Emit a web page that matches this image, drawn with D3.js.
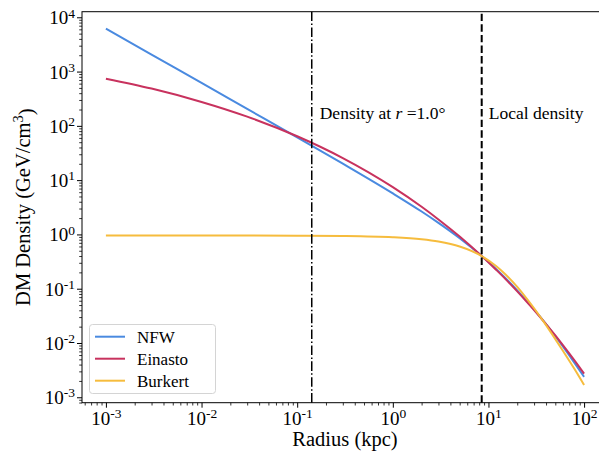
<!DOCTYPE html>
<html>
<head>
<meta charset="utf-8">
<script src="https://cdn.jsdelivr.net/npm/d3@7"></script>
<style>
  body { margin: 0; background: #fff; }
  svg text { font-family: "Liberation Serif", "Times New Roman", serif; fill: #000; }
</style>
</head>
<body>
<svg id="chart" width="599" height="451"></svg>
<script>
// Radius in kpc, density in GeV/cm^3
const radius  = [0.001, 0.003, 0.01, 0.03, 0.1, 0.3, 1, 2, 3, 5, 8.5, 12, 15, 20, 25, 30, 40, 50, 60, 80, 100];
const nfw     = [6190, 2058, 617, 205, 61.3, 20.1, 5.70, 2.64, 1.63, 0.851, 0.400, 0.232, 0.158, 0.0934, 0.0603, 0.0415, 0.0222, 0.0133, 0.00862, 0.00422, 0.00238];
const einasto = [740, 486, 276, 148, 64.3, 25.5, 7.43, 3.23, 1.89, 0.915, 0.400, 0.224, 0.152, 0.0893, 0.0581, 0.0405, 0.0223, 0.0138, 0.00917, 0.0047, 0.00273];
const burkert = [0.955, 0.955, 0.954, 0.953, 0.948, 0.935, 0.885, 0.812, 0.738, 0.600, 0.400, 0.262, 0.185, 0.108, 0.0666, 0.0436, 0.0213, 0.0118, 0.00721, 0.00324, 0.00168];

const seriesNames = ["NFW", "Einasto", "Burkert"];
const seriesColors = ["#4a8ae0", "#c8325e", "#f6bc3d"];

const xExponents = [-3, -2, -1, 0, 1, 2];
const yExponents = [-3, -2, -1, 0, 1, 2, 3, 4];

// marker lines: 1 degree from GC, and solar position
const rOneDeg = 0.142;
const rSun = 8.5;

const svg = d3.select("#chart");
const margin = { top: 11.7, left: 82, plotW: 526, plotH: 391 };

const x = d3.scaleLog()
  .domain([Math.pow(10, -3.25), Math.pow(10, 2.25)])
  .range([margin.left, margin.left + margin.plotW]);

const y = d3.scaleLog()
  .domain([Math.pow(10, -3.1), Math.pow(10, 4.103)])
  .range([margin.top + margin.plotH, margin.top]);

const x0 = x.range()[0], x1 = x.range()[1];
const y0 = y.range()[0], y1 = y.range()[1];

// minor ticks 2..9 per decade, within domain
function minors(scale) {
  const [a, b] = scale.domain();
  const out = [];
  for (let e = Math.floor(Math.log10(a)); e <= Math.ceil(Math.log10(b)); e++) {
    for (let m = 2; m <= 9; m++) {
      const v = m * Math.pow(10, e);
      if (v >= a && v <= b) out.push(v);
    }
  }
  return out;
}

function supLabel(sel) {
  sel.each(function (d) {
    const t = d3.select(this);
    const e = Math.round(Math.log10(d));
    t.text(null);
    t.append("tspan").text("10");
    t.append("tspan").attr("dy", "-0.5em").style("font-size", "13.5px").text(e);
  });
}

// x axis
svg.append("g")
  .attr("transform", `translate(0,${y0})`)
  .call(d3.axisBottom(x).tickValues(minors(x)).tickSize(2.8).tickFormat(""))
  .call(g => g.select(".domain").remove())
  .call(g => g.selectAll("line").attr("stroke", "#000").attr("stroke-width", 0.8));

svg.append("g")
  .attr("transform", `translate(0,${y0})`)
  .call(d3.axisBottom(x).tickValues(xExponents.map(e => Math.pow(10, e))).tickSize(5).tickPadding(3.5))
  .call(g => g.select(".domain").remove())
  .call(g => g.selectAll("line").attr("stroke", "#000").attr("stroke-width", 1))
  .call(g => g.selectAll("text")
    .style("font-size", "19px")
    .attr("dy", "0.71em")
    .call(supLabel));

// y axis
svg.append("g")
  .attr("transform", `translate(${x0},0)`)
  .call(d3.axisLeft(y).tickValues(minors(y)).tickSize(2.8).tickFormat(""))
  .call(g => g.select(".domain").remove())
  .call(g => g.selectAll("line").attr("stroke", "#000").attr("stroke-width", 0.8));

svg.append("g")
  .attr("transform", `translate(${x0},0)`)
  .call(d3.axisLeft(y).tickValues(yExponents.map(e => Math.pow(10, e))).tickSize(5).tickPadding(2))
  .call(g => g.select(".domain").remove())
  .call(g => g.selectAll("line").attr("stroke", "#000").attr("stroke-width", 1))
  .call(g => g.selectAll("text")
    .style("font-size", "19px")
    .attr("dy", "0.34em")
    .call(supLabel));

// curves
const line = d3.line()
  .x(d => x(d[0]))
  .y(d => y(d[1]))
  .curve(d3.curveMonotoneX);

const plot = svg.append("g");
[nfw, einasto, burkert].forEach((vals, i) => {
  plot.append("path")
    .datum(radius.map((r, j) => [r, vals[j]]))
    .attr("fill", "none")
    .attr("stroke", seriesColors[i])
    .attr("stroke-width", 2)
    .attr("d", line);
});

// vertical markers
plot.append("line")
  .attr("x1", x(rOneDeg)).attr("x2", x(rOneDeg))
  .attr("y1", y0).attr("y2", y1)
  .attr("stroke", "#000").attr("stroke-width", 1.5)
  .attr("stroke-dasharray", "9.6,2.4,1.5,2.4");

plot.append("line")
  .attr("x1", x(rSun)).attr("x2", x(rSun))
  .attr("y1", y0).attr("y2", y1)
  .attr("stroke", "#000").attr("stroke-width", 2)
  .attr("stroke-dasharray", "7.4,3.2");

const ann = svg.append("text")
  .attr("x", x(rOneDeg) + 8).attr("y", 118.5)
  .style("font-size", "17.5px");
ann.append("tspan").text("Density at ");
ann.append("tspan").style("font-style", "italic").text("r");
ann.append("tspan").text(" =1.0°");

svg.append("text")
  .attr("x", x(rSun) + 7).attr("y", 118.5)
  .style("font-size", "17.5px")
  .text("Local density");

// axes frame
svg.append("rect")
  .attr("x", x0).attr("y", y1)
  .attr("width", x1 - x0).attr("height", y0 - y1)
  .attr("fill", "none").attr("stroke", "#000").attr("stroke-width", 1);

// legend
const leg = svg.append("g");
leg.append("rect")
  .attr("x", 89.5).attr("y", 324.5).attr("width", 126).attr("height", 69)
  .attr("rx", 3)
  .attr("fill", "#fff").attr("fill-opacity", 0.8)
  .attr("stroke", "#d4d4d4").attr("stroke-width", 1);

seriesNames.forEach((name, i) => {
  const ly = 336.7 + i * 22;
  leg.append("line")
    .attr("x1", 95).attr("x2", 125)
    .attr("y1", ly).attr("y2", ly)
    .attr("stroke", seriesColors[i]).attr("stroke-width", 2);
  leg.append("text")
    .attr("x", 137).attr("y", ly + 5.8)
    .style("font-size", "17px")
    .text(name);
});

// axis labels
svg.append("text")
  .attr("x", (x0 + x1) / 2).attr("y", 446)
  .attr("text-anchor", "middle")
  .style("font-size", "20.5px")
  .text("Radius (kpc)");

const yl = svg.append("text")
  .attr("transform", `translate(30,${(y0 + y1) / 2}) rotate(-90)`)
  .attr("text-anchor", "middle")
  .style("font-size", "20.5px");
yl.append("tspan").text("DM Density (GeV/cm");
yl.append("tspan").attr("dy", "-0.45em").style("font-size", "14.5px").text("3");
yl.append("tspan").attr("dy", "0.45em").text(")");
</script>
</body>
</html>
